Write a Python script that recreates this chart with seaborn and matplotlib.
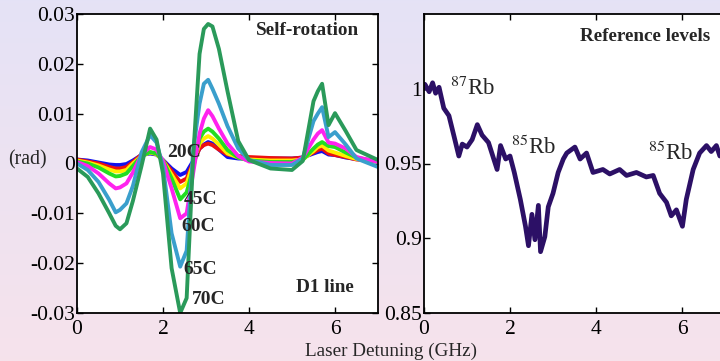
import numpy as np
import pandas as pd
import matplotlib
matplotlib.use("Agg")
import matplotlib.pyplot as plt
import seaborn as sns

# ---------------- data ----------------
detuning = [0, 0.25, 0.5, 0.75, 0.9, 1.0, 1.15, 1.3, 1.5, 1.7, 1.85, 2.0, 2.2, 2.4, 2.55,
            2.7, 2.85, 2.95, 3.05, 3.15, 3.3, 3.5, 3.75, 4.0, 4.5, 5.0, 5.25, 5.5, 5.6,
            5.7, 5.85, 6.0, 6.25, 6.5, 7.0]

rot_blue = [0.0008, 0.0006, 0.0002, -0.0002, -0.0003, -0.0003, -0.0001, 0.0006, 0.0017, 0.0020,
            0.0018, 0.0007, -0.0010, -0.0023, -0.0017, 0.0005, 0.0030, 0.0038, 0.0043, 0.0040,
            0.0028, 0.0013, 0.0010, 0.0010, 0.0010, 0.0010, 0.0012, 0.0020, 0.0023, 0.0025,
            0.0018, 0.0017, 0.0012, 0.0009, 0.0006]
rot_red = [0.0008, 0.0004, 0.0000, -0.0007, -0.0010, -0.0010, -0.0007, 0.0003, 0.0018, 0.0022,
           0.0019, 0.0006, -0.0015, -0.0037, -0.0030, 0.0002, 0.0030, 0.0037, 0.0040, 0.0037,
           0.0028, 0.0018, 0.0015, 0.0013, 0.0011, 0.0010, 0.0012, 0.0022, 0.0027, 0.0030,
           0.0020, 0.0017, 0.0013, 0.0008, 0.0005]
rot_yellow = [0.0006, 0.0002, -0.0004, -0.0012, -0.0016, -0.0016, -0.0013, 0.0000, 0.0015, 0.0022,
              0.0019, 0.0006, -0.0022, -0.0050, -0.0040, 0.0000, 0.0040, 0.0050, 0.0055, 0.0050,
              0.0038, 0.0020, 0.0012, 0.0008, 0.0006, 0.0006, 0.0008, 0.0025, 0.0033, 0.0036,
              0.0026, 0.0022, 0.0015, 0.0009, 0.0004]
rot_green = [0.0004, 0.0000, -0.0008, -0.0020, -0.0026, -0.0025, -0.0020, -0.0005, 0.0015, 0.0023,
             0.0020, 0.0006, -0.0030, -0.0072, -0.0058, -0.0010, 0.0050, 0.0064, 0.0070, 0.0064,
             0.0050, 0.0027, 0.0012, 0.0006, 0.0003, 0.0003, 0.0007, 0.0030, 0.0038, 0.0043,
             0.0035, 0.0033, 0.0022, 0.0012, 0.0003]
rot_magenta = [0.0003, -0.0005, -0.0020, -0.0040, -0.0050, -0.0048, -0.0040, -0.0018, 0.0018, 0.0033,
               0.0028, 0.0005, -0.0050, -0.0110, -0.0100, -0.0020, 0.0060, 0.0090, 0.0107, 0.0095,
               0.0070, 0.0040, 0.0015, 0.0004, 0.0001, 0.0000, 0.0012, 0.0048, 0.0060, 0.0067,
               0.0042, 0.0040, 0.0030, 0.0013, 0.0003]
rot_steel = [0.0000, -0.0013, -0.0037, -0.0073, -0.0098, -0.0093, -0.0080, -0.0045, 0.0022, 0.0057,
             0.0042, -0.0007, -0.0140, -0.0207, -0.0175, 0.0025, 0.0120, 0.0160, 0.0168, 0.0150,
             0.0120, 0.0075, 0.0030, 0.0007, -0.0003, -0.0003, 0.0010, 0.0085, 0.0100, 0.0113,
             0.0053, 0.0063, 0.0038, 0.0010, -0.0007]
rot_dkgreen = [-0.0010, -0.0027, -0.0060, -0.0100, -0.0125, -0.0132, -0.0120, -0.0075, -0.0005, 0.0070,
               0.0048, -0.0020, -0.0210, -0.0300, -0.0270, 0.0010, 0.0220, 0.0270, 0.0280, 0.0275,
               0.0230, 0.0145, 0.0045, 0.0007, -0.0010, -0.0013, 0.0005, 0.0125, 0.0145, 0.0160,
               0.0077, 0.0101, 0.0065, 0.0027, 0.0007]

series_names = ["20C", "30C", "40C", "45C", "60C", "65C", "70C"]
series_vals = [rot_blue, rot_red, rot_yellow, rot_green, rot_magenta, rot_steel, rot_dkgreen]
series_colors = ["#1010ee", "#ee1010", "#ffee00", "#22dd22", "#ff22ee", "#3a9fcc", "#2a9a5a"]

label_text = ["20C", "45C", "60C", "65C", "70C"]
label_x = [2.09, 2.49, 2.42, 2.47, 2.67]
label_y = [0.0022, -0.0072, -0.0126, -0.0212, -0.0272]

ref_x = [0.0, 0.02, 0.12, 0.20, 0.27, 0.35, 0.46, 0.58, 0.70, 0.81, 0.89, 1.0, 1.12, 1.24,
         1.35, 1.5, 1.70, 1.78, 1.9, 2.0, 2.1, 2.24, 2.36, 2.43, 2.51, 2.58, 2.66, 2.71,
         2.81, 2.89, 3.0, 3.12, 3.24, 3.32, 3.51, 3.63, 3.78, 3.93, 4.16, 4.32, 4.55, 4.71,
         4.94, 5.17, 5.33, 5.48, 5.64, 5.75, 5.87, 6.01, 6.1, 6.26, 6.41, 6.57, 6.68, 6.80,
         6.88, 7.0]
ref_y = [1.000, 1.003, 0.998, 1.004, 0.997, 1.001, 0.987, 0.982, 0.968, 0.955, 0.963, 0.961,
         0.966, 0.976, 0.969, 0.964, 0.946, 0.962, 0.953, 0.955, 0.944, 0.926, 0.908, 0.895,
         0.916, 0.899, 0.922, 0.891, 0.901, 0.921, 0.930, 0.944, 0.953, 0.957, 0.961, 0.953,
         0.957, 0.944, 0.946, 0.943, 0.946, 0.942, 0.944, 0.941, 0.942, 0.930, 0.924, 0.915,
         0.919, 0.908, 0.926, 0.946, 0.957, 0.962, 0.958, 0.962, 0.955, 0.955]

# ---------------- style ----------------
sns.set_style("ticks")
plt.rcParams["font.family"] = ["Liberation Serif", "DejaVu Serif"]
plt.rcParams["mathtext.fontset"] = "stix"

fig = plt.figure(figsize=(7.2, 3.61), dpi=100)

# gradient background
bg = fig.add_axes([0, 0, 1, 1], zorder=-10)
top = np.array([0.898, 0.890, 0.965])
bot = np.array([0.965, 0.890, 0.925])
t = np.linspace(0, 1, 256)[:, None]
grad = (top[None, :] * (1 - t) + bot[None, :] * t)[:, None, :]
bg.imshow(np.repeat(grad, 2, axis=1), aspect="auto", extent=[0, 1, 0, 1])
bg.set_axis_off()

W, H = 720, 361
ax1 = fig.add_axes([77 / W, 48 / H, 301 / W, 299 / H])
ax2 = fig.add_axes([424 / W, 48 / H, 301 / W, 299 / H])

rows = []
for name, vals in zip(series_names, series_vals):
    for xv, yv in zip(detuning, vals):
        rows.append((name, xv, yv))
df = pd.DataFrame(rows, columns=["temp", "det", "rot"])

for name, col in zip(series_names, series_colors):
    sub = df[df["temp"] == name]
    sns.lineplot(data=sub, x="det", y="rot", ax=ax1, color=col, lw=2.8,
                 legend=False, sort=False, estimator=None)

for txt, xv, yv in zip(label_text, label_x, label_y):
    ax1.text(xv, yv, txt, fontsize=14, fontweight="bold", ha="left", va="center")
ax1.text(5.35, 0.0266, "Self-rotation", fontsize=13.8, fontweight="bold", ha="center", va="center")
ax1.text(5.77, -0.0248, "D1 line", fontsize=13.8, fontweight="bold", ha="center", va="center")

ax1.set_xlim(0, 7)
ax1.set_ylim(-0.03, 0.03)
ax1.set_xticks([0, 2, 4, 6])
ax1.set_xticklabels(["0", "2", "4", "6"])
ax1.set_yticks([-0.03, -0.02, -0.01, 0, 0.01, 0.02, 0.03])
ax1.set_yticklabels(["-0.03", "-0.02", "-0.01", "0", "0.01", "0.02", "0.03"])
ax1.set_xlabel("")
ax1.set_ylabel("")
fig.text(8 / W, 1 - 160 / H, "(rad)", fontsize=14.2, ha="left", va="center")

ref_df = pd.DataFrame({"det": ref_x, "level": ref_y})
sns.lineplot(data=ref_df, x="det", y="level", ax=ax2, color="#2c1066", lw=3.4,
             legend=False, sort=False, estimator=None)
ax2.set_xlim(0, 7)
ax2.set_ylim(0.85, 1.05)
ax2.set_xticks([0, 2, 4, 6])
ax2.set_xticklabels(["0", "2", "4", "6"])
ax2.set_yticks([0.85, 0.9, 0.95, 1.0])
ax2.set_yticklabels(["0.85", "0.9", "0.95", "1"])
ax2.set_xlabel("")
ax2.set_ylabel("")
ax2.text(5.14, 1.035, "Reference levels", fontsize=13.8, fontweight="bold", ha="center", va="center")
ax2.text(0.6, 1.0, r"$^{87}$Rb", fontsize=16.5, ha="left", va="center")
ax2.text(2.02, 0.9607, r"$^{85}$Rb", fontsize=16.5, ha="left", va="center")
ax2.text(5.2, 0.957, r"$^{85}$Rb", fontsize=16.5, ha="left", va="center")

for ax, rt in ((ax1, True), (ax2, False)):
    ax.set_facecolor("white")
    for s in ax.spines.values():
        s.set_visible(True)
        s.set_color("black")
        s.set_linewidth(1.3)
    ax.tick_params(direction="in", top=True, right=rt, length=4, width=1,
                   labelsize=15.5, colors="black")
    ax.tick_params(axis="y", pad=1.5)
    ax.tick_params(axis="x", pad=5)

fig.text(391 / W, 1 - 351 / H, "Laser Detuning (GHz)", fontsize=13.8, ha="center", va="center")

fig.savefig("out.png", dpi=100)
